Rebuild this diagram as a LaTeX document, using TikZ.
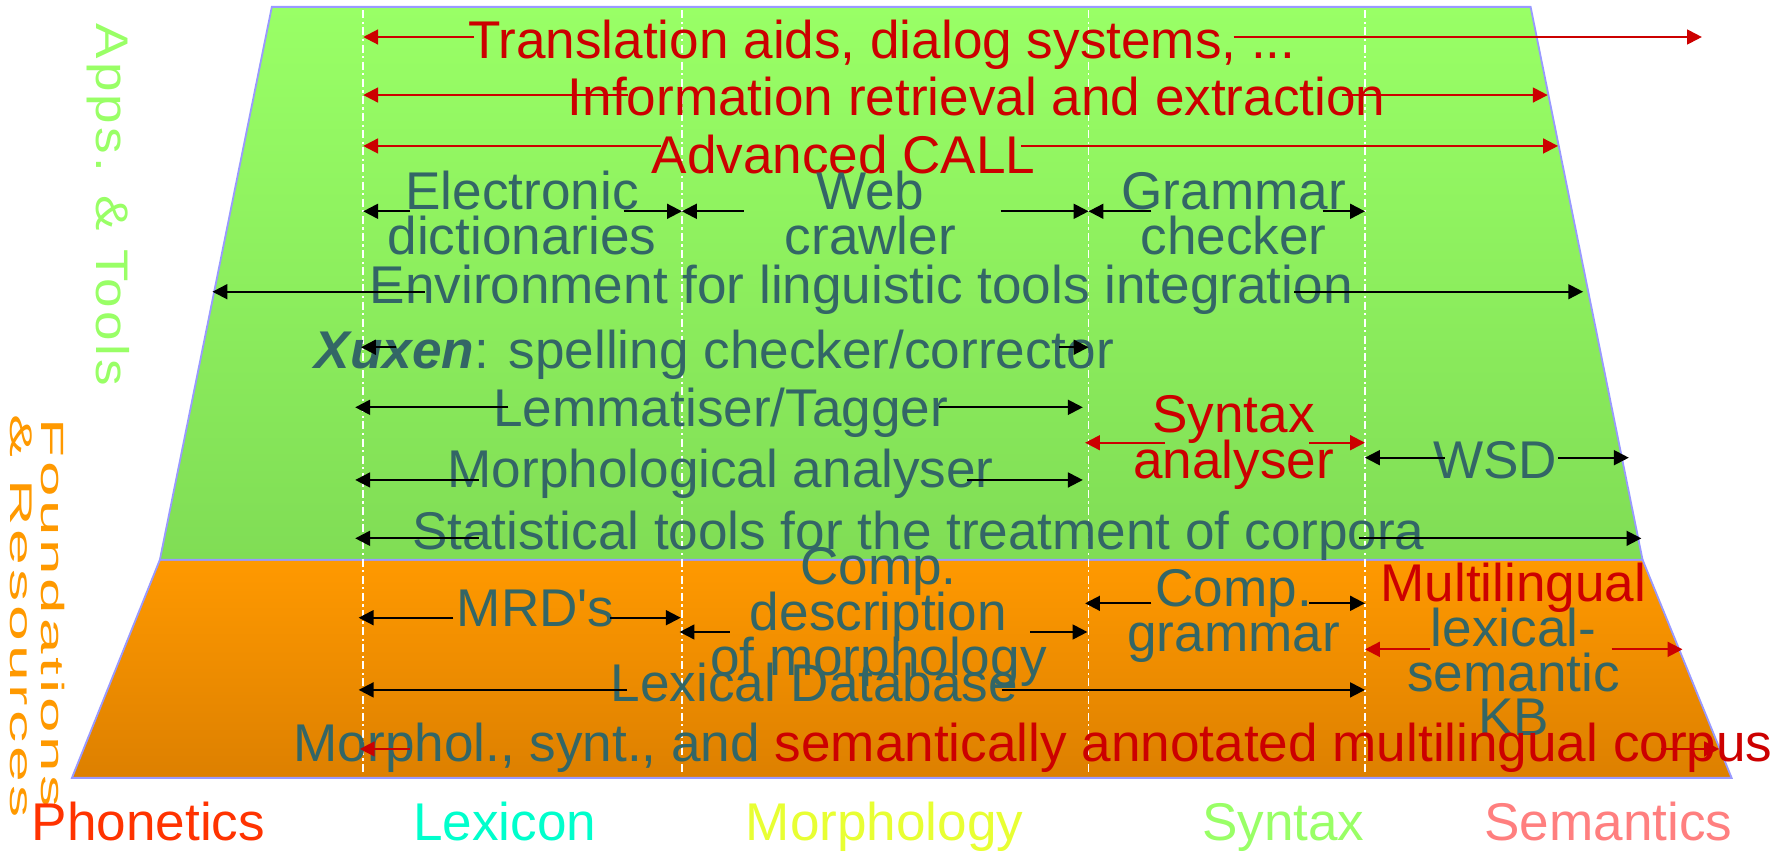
\documentclass[tikz,border=0pt]{standalone}
\usepackage{fontspec}
\usepackage{graphicx}
\setmainfont{Liberation Sans}
\newfontfamily\spacedfont[LetterSpace=6]{Liberation Sans}
\usetikzlibrary{arrows.meta}

\definecolor{txt}{HTML}{336666}
\definecolor{hot}{HTML}{CC0000}
\definecolor{edge}{HTML}{9999FF}
\definecolor{gtop}{HTML}{99FF66}
\definecolor{gbot}{HTML}{80DD55}
\definecolor{otop}{HTML}{FF9900}
\definecolor{obot}{HTML}{DD8000}
\definecolor{phon}{HTML}{FF3300}
\definecolor{lexc}{HTML}{00FFCC}
\definecolor{morc}{HTML}{E8FF33}
\definecolor{sync}{HTML}{99FF66}
\definecolor{semc}{HTML}{FF7F7F}

% straight apostrophe, taken as a glyph so no ligature mapping curls it
\newcommand\straightquote{\XeTeXglyph\XeTeXcharglyph"27\relax}

\begin{document}
\begin{tikzpicture}[x=1pt,y=-1pt,
  lbl/.style={inner sep=0pt, anchor=base, text=txt, font=\fontsize{46.5}{46.5}\selectfont},
  hotlbl/.style={lbl, text=hot},
  axis/.style={inner sep=0pt, anchor=base, font=\fontsize{46.5}{46.5}\selectfont},
  arr/.style={-{Triangle[length=13pt,width=13pt]}, line width=1.8pt, draw=black},
  hotarr/.style={arr, draw=hot},
  band/.style={draw=edge, line width=1.6pt},
  divider/.style={draw=white, line width=1.5pt, dash pattern=on 7pt off 3pt on 2pt off 3pt},
  side/.style={inner sep=0pt, rotate=-90, anchor=base west}
]
\useasboundingbox (0,0) rectangle (1568,746);

% layers of the pyramid
\path[band, top color=otop, bottom color=obot]
  (140,490) -- (1438,490) -- (1516,681) -- (63,681) -- cycle;
\path[band, top color=gtop, bottom color=gbot]
  (238,6) -- (1340,6) -- (1438,490) -- (140,490) -- cycle;

% column dividers
\foreach \cx/\nm in {318/dPho, 597/dLex, 953/dMor, 1195/dSyn} {
  \coordinate (\nm top) at (\cx,9);
  \coordinate (\nm bot) at (\cx,676);
  \draw[divider] (\nm top) -- (\nm bot);
}

% side captions
\node[side, text=sync] (apps) at (84.6,20.4)
  {\resizebox{317pt}{29pt}{\spacedfont Apps. \& Tools}};
\node[side, text=otop] (found) at (36.5,366)
  {\resizebox{341pt}{20.4pt}{\spacedfont Foundations}};
\node[side, text=otop] (resrc) at (8.8,363)
  {\resizebox{353pt}{19pt}{\spacedfont \& Resources}};

% applications
\node[hotlbl] (transl) at (772,51) {Translation aids, dialog systems, ...};
\node[hotlbl] (inforet) at (855,100.7) {Information retrieval and extraction};
\node[hotlbl] (call) at (738.5,151.7) {Advanced CALL};
\node[lbl] (elec1) at (457,183) {Electronic};
\node[lbl] (elec2) at (457,223) {dictionaries};
\node[lbl] (web1) at (762,183) {Web};
\node[lbl] (web2) at (762,223) {crawler};
\node[lbl] (gram1) at (1080,183) {Grammar};
\node[lbl] (gram2) at (1080,223) {checker};
\node[lbl] (envir) at (754,266) {Environment for linguistic tools integration};
\node[lbl] (xuxen) at (625.5,323) {{\bfseries\itshape Xuxen}: spelling checker/corrector};
\node[lbl] (lemma) at (631,373) {Lemmatiser/Tagger};
\node[hotlbl] (synt1) at (1080,379) {Syntax};
\node[hotlbl] (synt2) at (1080,418.5) {analyser};
\node[lbl] (morph) at (631,427) {Morphological analyser};
\node[lbl] (wsd) at (1309,418.5) {WSD};
\node[lbl] (stat) at (804,481.5) {Statistical tools for the treatment of corpora};

% foundations and resources
\node[lbl] (mrd) at (469,548.7) {MRD\straightquote s};
\node[lbl] (cdm1) at (769,512) {Comp.};
\node[lbl] (cdm2) at (769,551.6) {description};
\node[lbl] (cdm3) at (769,591) {of morphology};
\node[lbl] (cg1) at (1080,531) {Comp.};
\node[lbl] (cg2) at (1080,570.5) {grammar};
\node[hotlbl] (kb1) at (1325,526.8) {Multilingual};
\node[lbl] (kb2) at (1325,566.2) {lexical-};
\node[lbl] (kb3) at (1325,605.6) {semantic};
\node[lbl] (kb4) at (1325,643.5) {KB};
\node[lbl] (lexdb) at (713,614.3) {Lexical Database};
\node[lbl] (corpus) at (904.5,666.8)
  {Morphol., synt., and \textcolor{hot}{semantically annotated multilingual corpus}};

% levels of description
\node[axis, text=phon] (phonetics) at (130,736) {Phonetics};
\node[axis, text=lexc] (lexicon) at (442,736) {Lexicon};
\node[axis, text=morc] (morphology) at (774.5,736) {Morphology};
\node[axis, text=sync] (syntax) at (1123.5,736) {Syntax};
\node[axis, text=semc] (semantics) at (1408,736) {Semantics};

% span arrows: each label reaches out to the columns it covers
\foreach \nm/\y/\la/\lb/\ra/\rb/\st in {
    transl/32.4/415/318/1080/1490/hotarr,
    inforet/83.2/550/318/1175/1355/hotarr,
    call/127.8/579/318/894/1364/hotarr,
    elec/185/359/318/546/597/arr,
    web/185/651/597/876/953/arr,
    gram/185/1008/953/1158/1195/arr,
    envir/255.4/372/186/1133/1386/arr,
    xuxen/304/347/316/927/953/arr,
    lemma/356.6/445/311/822/948/arr,
    synt/387.6/1020/950/1146/1195/hotarr,
    wsd/400.7/1265/1195/1364/1426/arr,
    morph/420.2/419/311/847/948/arr,
    stat/471.3/419/311/1190/1437/arr,
    mrd/540.8/397/314/534/596/arr,
    cg/528.2/1008/950/1146/1195/arr,
    cdm/553.3/639/595/902/952/arr,
    kb/568.5/1252/1195/1411/1473/hotarr,
    lexdb/604/549/314/877/1195/arr,
    corpus/655.7/359/315/1454/1505/hotarr} {
  \coordinate (\nm Lfrom) at (\la,\y);
  \coordinate (\nm Lto) at (\lb,\y);
  \coordinate (\nm Rfrom) at (\ra,\y);
  \coordinate (\nm Rto) at (\rb,\y);
  \draw[\st] (\nm Lfrom) -- (\nm Lto);
  \draw[\st] (\nm Rfrom) -- (\nm Rto);
}
\end{tikzpicture}
\end{document}
